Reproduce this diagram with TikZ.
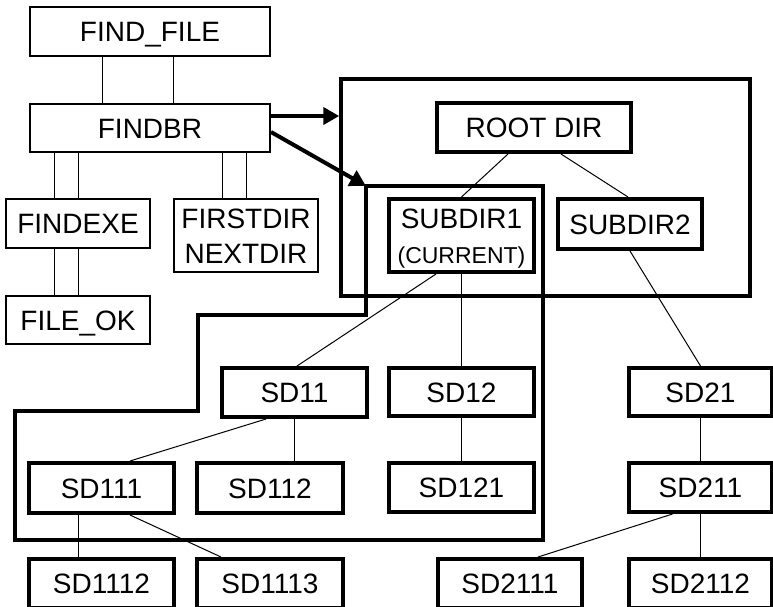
\documentclass[tikz,border=0pt]{standalone}
\usepackage{fontspec}
\setmainfont{Liberation Sans}
\usetikzlibrary{arrows.meta}
\begin{document}
\begin{tikzpicture}[x=1pt,y=-1pt,
  thinbox/.style={draw,line width=2pt,inner sep=0pt,text height=20pt,text depth=0pt,
    align=center,font=\fontsize{28}{35}\selectfont},
  thickbox/.style={thinbox,line width=4pt},
  twoline/.style={text height=55pt,text depth=0pt},
  size/.style 2 args={minimum width=#1pt,minimum height=#2pt},
  conn/.style={line width=1pt},
  frame/.style={draw,line width=3.5pt},
  bigarrow/.style={line width=4pt,-{Triangle[length=16pt,width=17pt]}}]
\useasboundingbox (0,0) rectangle (773,606);
\clip (0,0) rectangle (773,606);

% frames
\node[frame,inner sep=0pt,size={409}{217}] (rootframe) at (545.5,187.5) {};
\coordinate (curcorner) at (366,186);
\draw[frame] (curcorner) -- (543,186) -- (543,540) -- (15,540) -- (15,411)
  -- (198,411) -- (198,315) -- (366,315) -- cycle;

% left program boxes
\node[thinbox,size={240}{49}] (findfile) at (150,31.5) {FIND\_FILE};
\node[thinbox,size={240}{48}] (findbr) at (150,128) {FINDBR};
\node[thinbox,size={144}{49}] (findexe) at (78,223.5) {FINDEXE};
\node[thinbox,twoline,size={144}{73}] (firstdir) at (246,235.5) {FIRSTDIR\\NEXTDIR};
\node[thinbox,size={144}{48}] (fileok) at (78,320) {FILE\_OK};

% directory tree
\node[thickbox,size={194}{49}] (root) at (534,127.5) {ROOT DIR};
\node[thickbox,twoline,size={145}{73}] (subdir1) at (461.5,235.5)
  {SUBDIR1\\{\fontsize{23}{23}\selectfont (CURRENT)}};
\node[thickbox,size={144}{50}] (subdir2) at (630,224) {SUBDIR2};
\node[thickbox,size={145}{49}] (sd11) at (294.5,392.5) {SD11};
\node[thickbox,size={145}{48}] (sd12) at (461.5,392) {SD12};
\node[thickbox,size={143}{48}] (sd21) at (700.5,392) {SD21};
\node[thickbox,size={145}{50}] (sd111) at (101.5,488) {SD111};
\node[thickbox,size={146}{50}] (sd112) at (270,488) {SD112};
\node[thickbox,size={145}{49}] (sd121) at (461.5,487.5) {SD121};
\node[thickbox,size={143}{49}] (sd211) at (700.5,487.5) {SD211};
\node[thickbox,size={145}{49}] (sd1112) at (101.5,583.5) {SD1112};
\node[thickbox,size={146}{49}] (sd1113) at (270,583.5) {SD1113};
\node[thickbox,size={144}{49}] (sd2111) at (510,583.5) {SD2111};
\node[thickbox,size={143}{49}] (sd2112) at (700.5,583.5) {SD2112};

% double connectors of the program boxes
\draw[conn] ([xshift=-48pt]findfile.south) -- ([xshift=-48pt]findbr.north);
\draw[conn] ([xshift=23pt]findfile.south) -- ([xshift=23pt]findbr.north);
\draw[conn] ([xshift=-24pt]findexe.north) -- ([xshift=-24pt]findexe.north |- findbr.south);
\draw[conn] (findexe.north) -- (findexe.north |- findbr.south);
\draw[conn] ([xshift=-24pt]firstdir.north) -- ([xshift=-24pt]firstdir.north |- findbr.south);
\draw[conn] (firstdir.north) -- (firstdir.north |- findbr.south);
\draw[conn] ([xshift=-24pt]findexe.south) -- ([xshift=-24pt]fileok.north);
\draw[conn] (findexe.south) -- (fileok.north);

% arrows
\draw[bigarrow] ([yshift=12pt]findbr.east) -- ([yshift=12pt]findbr.east -| rootframe.west);
\draw[bigarrow] ([yshift=-4pt]findbr.east) -- (curcorner);

% tree connectors
\draw[conn] ([xshift=-26pt]root.south) -- (subdir1.north);
\draw[conn] ([xshift=27pt]root.south) -- ([xshift=-2pt]subdir2.north);
\draw[conn] ([xshift=-25.5pt]subdir1.south) -- ([xshift=2.5pt]sd11.north);
\draw[conn] (subdir1.south) -- (sd12.north);
\draw[conn] (subdir2.south) -- (sd21.north);
\draw[conn] ([xshift=-28.5pt]sd11.south) -- ([xshift=28.5pt]sd111.north);
\draw[conn] (sd11.south) -- (sd11.south |- sd112.north);
\draw[conn] (sd12.south) -- (sd121.north);
\draw[conn] (sd21.south) -- (sd211.north);
\draw[conn] ([xshift=-23.5pt]sd111.south) -- ([xshift=-23.5pt]sd1112.north);
\draw[conn] ([xshift=28.5pt]sd111.south) -- ([xshift=-49pt]sd1113.north);
\draw[conn] ([xshift=-28pt]sd211.south) -- ([xshift=28pt]sd2111.north);
\draw[conn] (sd211.south) -- (sd2112.north);
\end{tikzpicture}
\end{document}
